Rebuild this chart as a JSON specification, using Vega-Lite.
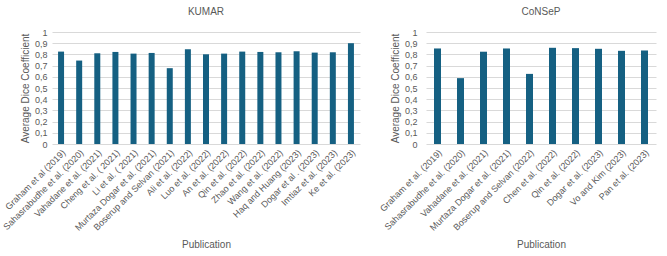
{
  "$schema": "https://vega.github.io/schema/vega-lite/v6.json",
  "background": "white",
  "padding": {"left": 1, "top": 7, "right": 5, "bottom": 5},
  "spacing": 18,
  "config": {
    "font": "Liberation Sans",
    "view": {"stroke": null},
    "title": {"fontSize": 10, "fontWeight": "normal", "color": "#595959", "offset": 11},
    "axis": {
      "labelColor": "#595959", "titleColor": "#595959", "labelFontSize": 9,
      "titleFontSize": 10, "titleFontWeight": "normal", "ticks": false, "domain": false,
      "gridColor": "#d9d9d9"
    }
  },
  "datasets": {
    "kumar": [
      {"publication": "Graham et al (2019)", "dice": 0.825},
      {"publication": "Sahasrabudhe et al. (2020)", "dice": 0.745},
      {"publication": "Vahadane et al. (2021)", "dice": 0.81},
      {"publication": "Cheng et al. ( 2021)", "dice": 0.822},
      {"publication": "Li et al. ( 2021)", "dice": 0.807},
      {"publication": "Murtaza Dogar et al. (2021)", "dice": 0.813},
      {"publication": "Boserup and Selvan (2021)", "dice": 0.677},
      {"publication": "Ali et al. (2022)", "dice": 0.846},
      {"publication": "Luo et al. (2022)", "dice": 0.801},
      {"publication": "An et al. (2022)", "dice": 0.807},
      {"publication": "Qin et al. (2022)", "dice": 0.825},
      {"publication": "Zhao et al. (2022)", "dice": 0.822},
      {"publication": "Wang et al. (2022)", "dice": 0.819},
      {"publication": "Haq and Huang (2023)", "dice": 0.828},
      {"publication": "Dogar et al . (2023)", "dice": 0.816},
      {"publication": "Imtiaz et al. (2023)", "dice": 0.819},
      {"publication": "Ke et al. (2023)", "dice": 0.9}
    ],
    "consep": [
      {"publication": "Graham et al. (2019)", "dice": 0.853},
      {"publication": "Sahasrabudhe et al. (2020)", "dice": 0.588},
      {"publication": "Vahadane et al. (2021)", "dice": 0.824},
      {"publication": "Murtaza Dogar et al. (2021)", "dice": 0.853},
      {"publication": "Boserup and Selvan (2022)", "dice": 0.626},
      {"publication": "Chen et al. (2022)", "dice": 0.859},
      {"publication": "Qin et al. (2022)", "dice": 0.856},
      {"publication": "Dogar et al. (2023)", "dice": 0.85},
      {"publication": "Vo and Kim (2023)", "dice": 0.832},
      {"publication": "Pan et al. (2023)", "dice": 0.835}
    ]
  },
  "hconcat": [
    {
      "data": {"name": "kumar"},
      "title": "KUMAR",
      "width": 308,
      "height": 112,
      "mark": {"type": "bar", "color": "#156082", "width": 6},
      "encoding": {
        "x": {"field": "publication", "type": "nominal", "sort": null, "title": "Publication",
              "axis": {"labelAngle": -45, "labelPadding": 4, "titlePadding": 7}},
        "y": {"field": "dice", "type": "quantitative", "title": "Average Dice Coefficient",
              "scale": {"domain": [0, 1]},
              "axis": {"values": [0, 0.1, 0.2, 0.3, 0.4, 0.5, 0.6, 0.7, 0.8, 0.9, 1],
                       "labelExpr": "replace(format(datum.value, '~g'), '.', ',')", "labelPadding": 5}}
      }
    },
    {
      "data": {"name": "consep"},
      "title": "CoNSeP",
      "width": 230,
      "height": 112,
      "mark": {"type": "bar", "color": "#156082", "width": 7},
      "encoding": {
        "x": {"field": "publication", "type": "nominal", "sort": null, "title": "Publication",
              "axis": {"labelAngle": -45, "labelPadding": 4, "titlePadding": 7}},
        "y": {"field": "dice", "type": "quantitative", "title": "Average Dice Coefficient",
              "scale": {"domain": [0, 1]},
              "axis": {"values": [0, 0.1, 0.2, 0.3, 0.4, 0.5, 0.6, 0.7, 0.8, 0.9, 1],
                       "labelExpr": "replace(format(datum.value, '~g'), '.', ',')", "labelPadding": 9}}
      }
    }
  ]
}
